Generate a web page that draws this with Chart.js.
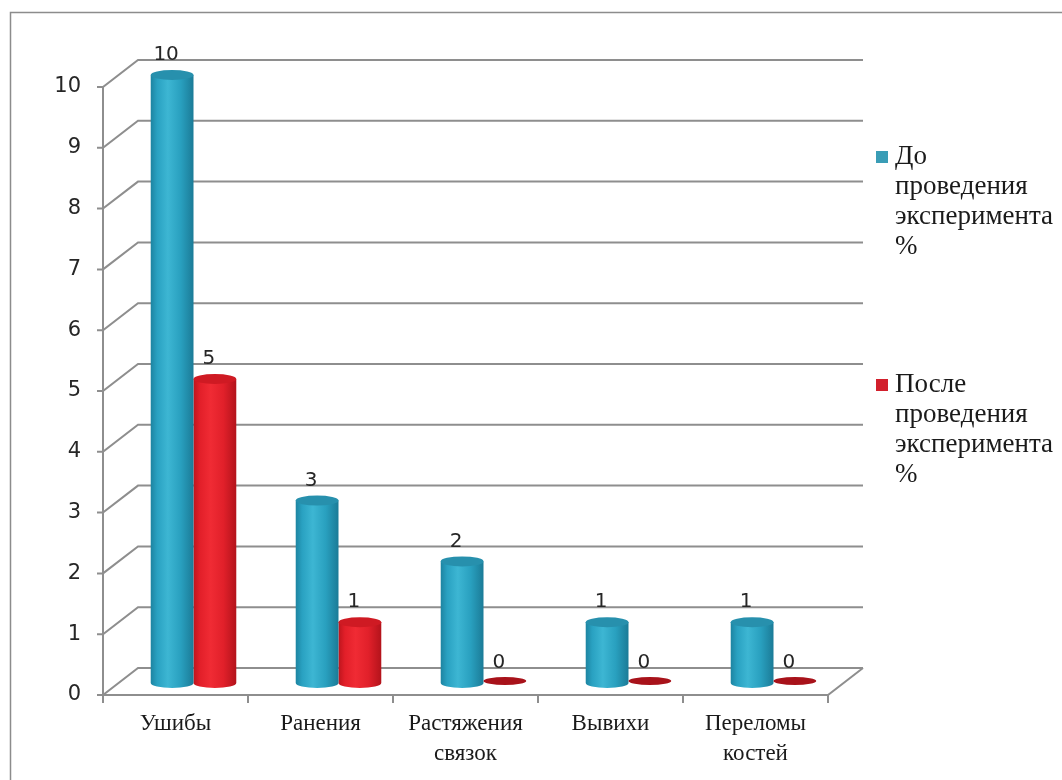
<!DOCTYPE html>
<html><head><meta charset="utf-8">
<script src="https://cdn.jsdelivr.net/npm/chart.js@4.4.1/dist/chart.umd.min.js"></script>
<style>html,body{margin:0;padding:0;background:#fff;overflow:hidden}#wrap{width:1062px;height:780px;position:relative}</style>
</head><body><div id="wrap"><canvas id="c" width="1062" height="780"></canvas></div>
<script>
// ---- data ----
const categories = [['Ушибы'], ['Ранения'], ['Растяжения', 'связок'], ['Вывихи'], ['Переломы', 'костей']];
const seriesNames = ['До проведения эксперимента %', 'После проведения эксперимента %'];
const legendLines = [['До', 'проведения', 'эксперимента', '%'], ['После', 'проведения', 'эксперимента', '%']];
const beforeValues = [10, 3, 2, 1, 1];
const afterValues = [5, 1, 0, 0, 0];
const yTickValues = [0, 1, 2, 3, 4, 5, 6, 7, 8, 9, 10];

// ---- styling ----
const DX = 35, DY = -27;          // depth of floor / back wall
const BAR_DX = 18, BAR_DY = -12;  // bars stand midway in depth
const RY = 5;
const blueStops = [[0, '#1d84a1'], [0.15, '#29a1c1'], [0.4, '#3db6d3'], [0.7, '#29a0bf'], [1, '#1b7b97']];
const redStops = [[0, '#bd151d'], [0.15, '#e21f29'], [0.4, '#f02b34'], [0.7, '#e1202a'], [1, '#b3131b']];
const topColors = ['#2790ad', '#cf1a23'];
const flatColor = '#a8121a';
const legendColors = ['#3a9db6', '#d21f2c'];

const threeD = {
  id: 'threeD',
  beforeDraw(chart) {
    const ctx = chart.ctx;
    ctx.save();
    ctx.fillStyle = '#fff';
    ctx.fillRect(0, 0, chart.width, chart.height);
    ctx.strokeStyle = '#8c8c8c';
    ctx.lineWidth = 1.5;
    ctx.strokeRect(10.5, 12.5, chart.width + 40, chart.height + 40);
    ctx.restore();
  },
  beforeDatasetsDraw(chart) {
    const ctx = chart.ctx, a = chart.chartArea, y = chart.scales.y;
    ctx.save();
    ctx.strokeStyle = '#8e8e8e';
    ctx.lineWidth = 2;
    y.ticks.forEach(t => {
      const py = y.getPixelForValue(t.value);
      ctx.beginPath();
      ctx.moveTo(a.left - 6, py);
      ctx.lineTo(a.left, py);
      ctx.lineTo(a.left + DX, py + DY);
      ctx.lineTo(a.right + DX, py + DY);
      ctx.stroke();
    });
    const y0 = y.getPixelForValue(0);
    const yTop = y.getPixelForValue(yTickValues[yTickValues.length - 1]);
    ctx.beginPath();
    ctx.moveTo(a.left, yTop);
    ctx.lineTo(a.left, y0);
    ctx.lineTo(a.right, y0);
    ctx.lineTo(a.right + DX, y0 + DY);
    const n = categories.length;
    for (let i = 0; i <= n; i++) {
      const px = a.left + (a.right - a.left) * i / n;
      ctx.moveTo(px, y0);
      ctx.lineTo(px, y0 + 8);
    }
    ctx.stroke();
    ctx.restore();
    chart.data.datasets.forEach((ds, di) => {
      const stops = di === 0 ? blueStops : redStops;
      chart.getDatasetMeta(di).data.forEach(bar => {
        const g = ctx.createLinearGradient(bar.x - bar.width / 2, 0, bar.x + bar.width / 2, 0);
        stops.forEach(s => g.addColorStop(s[0], s[1]));
        bar.options.backgroundColor = g;
      });
    });
    ctx.save();
    ctx.translate(BAR_DX, BAR_DY);
  },
  afterDatasetsDraw(chart) {
    const ctx = chart.ctx;
    chart.data.datasets.forEach((ds, di) => {
      chart.getDatasetMeta(di).data.forEach((bar, i) => {
        const w = bar.width, cx = bar.x, top = bar.y, base = bar.base;
        if (ds.data[i] > 0) {
          ctx.fillStyle = bar.options.backgroundColor;
          ctx.beginPath();
          ctx.ellipse(cx, base, w / 2, RY, 0, 0, Math.PI);
          ctx.fill();
          ctx.fillStyle = topColors[di];
          ctx.beginPath();
          ctx.ellipse(cx, top, w / 2, RY, 0, 0, 2 * Math.PI);
          ctx.fill();
        } else {
          ctx.fillStyle = flatColor;
          ctx.beginPath();
          ctx.ellipse(cx, base - 2, w / 2, 4, 0, 0, 2 * Math.PI);
          ctx.fill();
        }
        ctx.fillStyle = '#262626';
        ctx.font = '20px "DejaVu Sans"';
        ctx.textAlign = 'center';
        ctx.textBaseline = 'middle';
        ctx.fillText(String(ds.data[i]), cx - 6, top - 20);
      });
    });
    ctx.restore();
  },
  afterDraw(chart) {
    const ctx = chart.ctx, a = chart.chartArea;
    const lx = a.right + DX + 13;
    const starts = [157, 385];
    ctx.save();
    ctx.font = '27px "Liberation Serif"';
    ctx.textAlign = 'left';
    ctx.textBaseline = 'middle';
    legendLines.forEach((lines, k) => {
      ctx.fillStyle = legendColors[k];
      ctx.fillRect(lx, starts[k] - 6, 12, 12);
      ctx.fillStyle = '#1a1a1a';
      lines.forEach((ln, j) => ctx.fillText(ln, lx + 19, starts[k] + 30 * j));
    });
    ctx.restore();
  }
};

new Chart(document.getElementById('c'), {
  type: 'bar',
  data: {
    labels: categories,
    datasets: [
      { label: seriesNames[0], data: beforeValues, backgroundColor: () => '#2b9cba', borderWidth: 0, clip: false },
      { label: seriesNames[1], data: afterValues, backgroundColor: () => '#e0202a', borderWidth: 0, clip: false }
    ]
  },
  options: {
    responsive: false,
    devicePixelRatio: 1,
    animation: false,
    events: [],
    categoryPercentage: 0.59,
    barPercentage: 1.0,
    layout: { padding: { left: 10, top: 87, right: 234, bottom: 0 } },
    plugins: { legend: { display: false }, tooltip: { enabled: false } },
    scales: {
      x: {
        grid: { display: false, drawTicks: false },
        border: { display: false },
        ticks: { color: '#1a1a1a', padding: 14, font: { family: '"Liberation Serif"', size: 23, lineHeight: 1.3 }, maxRotation: 0, autoSkip: false },
        afterFit: s => { s.height = 85; }
      },
      y: {
        min: 0, max: 10,
        grid: { display: false, drawTicks: false },
        border: { display: false },
        afterBuildTicks: s => { s.ticks = yTickValues.map(v => ({ value: v })); },
        ticks: { color: '#262626', padding: 22, font: { family: '"DejaVu Sans"', size: 21 } },
        afterFit: s => { s.width = 93; }
      }
    }
  },
  plugins: [threeD]
});
</script>
</body></html>
